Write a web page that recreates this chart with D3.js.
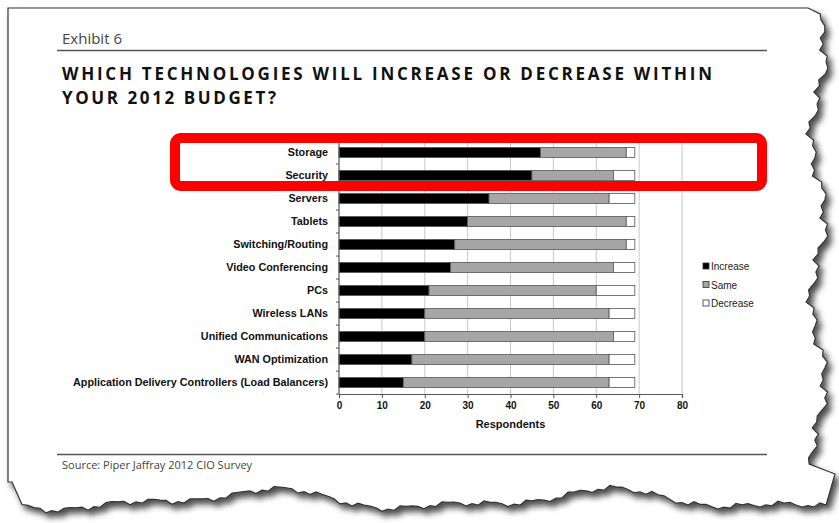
<!DOCTYPE html>
<html>
<head>
<meta charset="utf-8">
<script src="https://cdn.jsdelivr.net/npm/d3@7"></script>
<style>
  body { margin: 0; background: #fff; }
  svg { display: block; }
</style>
</head>
<body>
<svg id="chart" width="839" height="523"></svg>
<script>
// data
const categories = ['Storage', 'Security', 'Servers', 'Tablets', 'Switching/Routing',
  'Video Conferencing', 'PCs', 'Wireless LANs', 'Unified Communications',
  'WAN Optimization', 'Application Delivery Controllers (Load Balancers)'];
const increase = [47, 45, 35, 30, 27, 26, 21, 20, 20, 17, 15];
const same     = [20, 19, 28, 37, 40, 38, 39, 43, 44, 46, 48];
const decrease = [2, 5, 6, 2, 2, 5, 9, 6, 5, 6, 6];
const seriesNames = ['Increase', 'Same', 'Decrease'];
const seriesColors = ['#000000', '#a6a6a6', '#ffffff'];
const xTicks = [0, 10, 20, 30, 40, 50, 60, 70, 80];

const svg = d3.select('#chart');

// torn paper edge with shadow
const defs = svg.append('defs');
defs.append('filter').attr('id', 'shadow')
  .attr('x', '-5%').attr('y', '-5%').attr('width', '115%').attr('height', '115%')
  .append('feDropShadow')
  .attr('dx', 4).attr('dy', 5).attr('stdDeviation', 3)
  .attr('flood-color', '#000').attr('flood-opacity', 0.7);

function jag(i) {
  return Math.sin(i * 0.9) * 2.5 + Math.sin(i * 2.7 + 1) * 1.8 + Math.sin(i * 0.23) * 5;
}
const pagePts = [[8, 8], [808, 8]];
for (let y = 14, i = 0; y < 470; y += 6, i++) {
  pagePts.push([818 + jag(i) * 1.4, y]);
}
pagePts.push([835, 474]);
for (let x = 826, i = 0; x > 20; x -= 6, i++) {
  const base = 500 + Math.sin(x / 55) * 8;
  pagePts.push([x, base + jag(i + 40) * 0.8]);
}
pagePts.push([12, 482], [8, 482]);

svg.append('path')
  .attr('d', d3.line()(pagePts) + 'Z')
  .attr('fill', '#fff')
  .attr('stroke', '#333')
  .attr('stroke-width', 1.2)
  .attr('filter', 'url(#shadow)');

// header
svg.append('text')
  .attr('x', 62).attr('y', 44)
  .attr('font-family', 'Open Sans, sans-serif')
  .attr('font-size', 15)
  .attr('fill', '#444')
  .text('Exhibit 6');
svg.append('line')
  .attr('x1', 57).attr('x2', 767).attr('y1', 50.5).attr('y2', 50.5)
  .attr('stroke', '#555').attr('stroke-width', 1.5);

const titleLines = ['WHICH TECHNOLOGIES WILL INCREASE OR DECREASE WITHIN', 'YOUR 2012 BUDGET?'];
const titleWidths = [650, 214];
svg.selectAll('.title').data(titleLines).enter().append('text')
  .attr('class', 'title')
  .attr('x', 62)
  .attr('y', (d, i) => 80 + i * 24)
  .attr('font-family', 'Open Sans, sans-serif')
  .attr('font-weight', 700)
  .attr('font-size', 17)
  .attr('fill', '#111')
  .attr('textLength', (d, i) => titleWidths[i])
  .attr('lengthAdjust', 'spacing')
  .text(d => d);

// chart
const margin = {left: 339, top: 141, right: 157, bottom: 129};
const width = 839 - margin.left - margin.right;
const height = 523 - margin.top - margin.bottom;

const x = d3.scaleLinear().domain([0, 80]).range([0, width]);
const y = d3.scaleBand().domain(categories).range([0, height]).paddingInner(0.565).paddingOuter(0.28);

const g = svg.append('g').attr('transform', `translate(${margin.left},${margin.top})`);

// gridlines
g.selectAll('.grid').data(xTicks.slice(1)).enter().append('line')
  .attr('x1', d => x(d)).attr('x2', d => x(d))
  .attr('y1', 0).attr('y2', height)
  .attr('stroke', '#c8c8c8').attr('stroke-width', 1);

const rows = categories.map((c, i) => ({cat: c, vals: [increase[i], same[i], decrease[i]]}));
const stack = d3.stack().keys([0, 1, 2]).value((d, k) => d.vals[k]);
const layers = stack(rows);

g.selectAll('.layer').data(layers).enter().append('g')
  .attr('fill', (d, i) => seriesColors[i])
  .selectAll('rect').data(d => d).enter().append('rect')
  .attr('x', d => x(d[0]))
  .attr('y', d => y(d.data.cat))
  .attr('width', d => x(d[1]) - x(d[0]))
  .attr('height', y.bandwidth())
  .attr('stroke', '#555').attr('stroke-width', 0.8);

// y axis
const yAxis = g.append('g').call(d3.axisLeft(y).tickSize(0).tickPadding(11));
yAxis.select('.domain').remove();
yAxis.selectAll('text')
  .attr('font-family', 'Liberation Sans, Arial, sans-serif')
  .attr('font-weight', 'bold')
  .attr('font-size', 10.8)
  .attr('fill', '#111');
g.append('line').attr('x1', 0).attr('x2', 0).attr('y1', 0).attr('y2', height)
  .attr('stroke', '#555').attr('stroke-width', 1.2);
g.selectAll('.ysep').data(d3.range(categories.length + 1)).enter().append('line')
  .attr('x1', -3).attr('x2', 0)
  .attr('y1', d => d * y.step()).attr('y2', d => d * y.step())
  .attr('stroke', '#555');

// x axis
const xAxis = g.append('g').attr('transform', `translate(0,${height})`)
  .call(d3.axisBottom(x).tickValues(xTicks).tickSize(4).tickPadding(4));
xAxis.select('.domain').attr('stroke', '#555').attr('stroke-width', 1.2);
xAxis.selectAll('.tick line').attr('stroke', '#555');
xAxis.selectAll('text')
  .attr('font-family', 'Liberation Sans, Arial, sans-serif')
  .attr('font-weight', 'bold')
  .attr('font-size', 10)
  .attr('fill', '#111');
g.append('text')
  .attr('x', x(40)).attr('y', height + 34)
  .attr('text-anchor', 'middle')
  .attr('font-family', 'Liberation Sans, Arial, sans-serif')
  .attr('font-weight', 'bold')
  .attr('font-size', 11)
  .attr('fill', '#111')
  .text('Respondents');

// legend
const legend = svg.append('g').attr('transform', 'translate(703,263)');
const li = legend.selectAll('g').data(seriesNames).enter().append('g')
  .attr('transform', (d, i) => `translate(0,${i * 18.5})`);
li.append('rect').attr('width', 6).attr('height', 6)
  .attr('fill', (d, i) => seriesColors[i]).attr('stroke', '#333').attr('stroke-width', 0.8);
li.append('text').attr('x', 8).attr('y', 7)
  .attr('font-family', 'Liberation Sans, Arial, sans-serif')
  .attr('font-size', 10)
  .attr('fill', '#222')
  .text(d => d);

// highlight box
svg.append('rect')
  .attr('x', 175).attr('y', 138).attr('width', 587).attr('height', 48)
  .attr('rx', 6)
  .attr('fill', 'none').attr('stroke', '#ff0000').attr('stroke-width', 10);

// source
svg.append('line')
  .attr('x1', 57).attr('x2', 767).attr('y1', 454.5).attr('y2', 454.5)
  .attr('stroke', '#555').attr('stroke-width', 1.5);
svg.append('text')
  .attr('x', 62).attr('y', 469)
  .attr('font-family', 'Open Sans, sans-serif')
  .attr('font-size', 11)
  .attr('fill', '#444')
  .text('Source: Piper Jaffray 2012 CIO Survey');
</script>
</body>
</html>
